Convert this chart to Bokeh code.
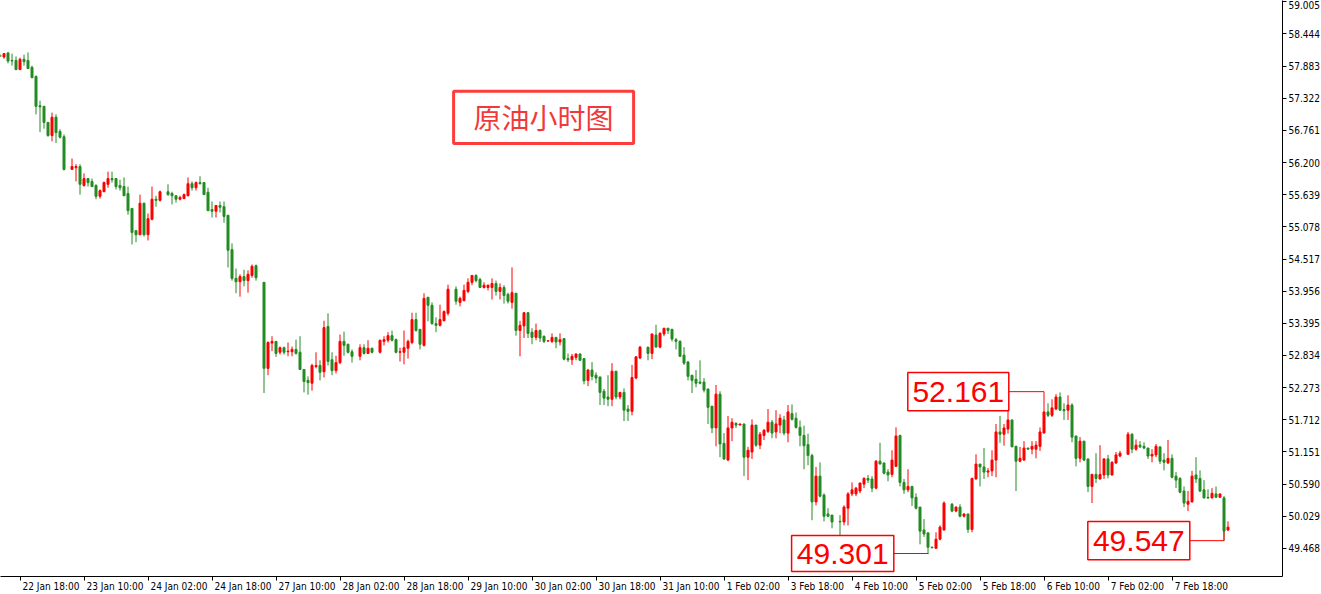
from bokeh.plotting import figure
from bokeh.models import (ColumnDataSource, Range1d, FixedTicker, PrintfTickFormatter,
                          BoxAnnotation, Label, LinearAxis)
from bokeh.embed import file_html
from bokeh.resources import INLINE

# ---------------- data (hourly crude oil) ----------------
opens = [
    58.07, 58.04, 58.11, 57.98, 57.98, 57.82, 58.00, 57.98, 57.86, 57.70,
    57.19, 57.18, 56.90, 56.67, 56.99, 56.74, 56.65, None, 56.08, 56.11,
    56.13, 55.80, 55.92, 55.87, 55.80, 55.61, 55.69, 55.82, 55.92, 55.92,
    55.80, 55.78, 55.66, 55.40, 55.01, 54.94, 55.49, 54.94, 55.21, 55.56,
    55.54, None, 55.69, 55.66, 55.62, 55.56, 55.57, 55.62, 55.83, 55.76,
    55.85, 55.85, 55.68, 55.38, 55.35, 55.45, 55.43, 55.28, 54.68, 54.18,
    54.12, 54.21, 54.14, 54.23, 54.40, None, 54.11, 52.61, 53.05, 53.08,
    52.89, 52.97, 52.90, 52.90, 52.94, 52.89, 52.59, 52.40, 52.35, 52.64,
    52.66, 52.55, 53.34, 52.76, 52.57, 52.71, 53.08, 53.03, 52.90, None,
    52.82, 52.97, 52.87, 52.96, None, 52.89, 53.08, 53.10, 53.18, 53.11,
    52.89, 52.89, 52.96, 53.06, 53.46, 53.29, 53.01, 53.85, 53.71, 53.39,
    53.36, 53.44, 53.57, None, 53.99, 53.76, 53.79, 53.95, 54.11, 54.23,
    54.16, 54.02, 54.02, 54.02, 54.09, 53.95, 54.02, 53.90, 53.76, 53.92,
    53.27, 53.35, 53.58, 53.24, 53.15, 53.27, 53.17, 53.085, 53.08, 53.15,
    53.07, 53.13, 52.78, 52.76, 52.80, 52.86, 52.78, 52.40, 52.58, 52.49,
    52.46, 52.21, 52.11, 52.07, 52.56, 52.11, 52.19, 51.90, 51.86, 52.44,
    52.79, None, 52.98, 52.87, 53.19, 52.98, 53.21, 53.31, 53.29, 53.11,
    53.08, 52.84, 52.72, 52.49, 52.42, 52.37, 52.37, 52.25, 51.95, 51.57,
    52.16, 51.30, 51.01, 51.57, 51.65, 51.62, 51.64, 51.06, 51.15, 51.62,
    51.27, 51.44, 51.51, 51.67, 51.50, 51.62, 51.71, 51.48, 51.82, 51.74,
    51.58, 51.44, 51.28, 51.09, 50.28, 50.73, 50.40, 50.07, 50.05, None,
    49.94, 49.93, 50.17, 50.42, 50.42, 50.47, 50.59, 50.69, 50.68, 50.52,
    50.99, 50.96, 50.80, 50.76, 50.90, 51.44, 50.62, 50.49, 50.55, 50.36,
    50.19, 49.79, 49.74, 49.49, 49.47, 49.63, 49.79, None, 50.24, 50.12,
    50.19, 50.03, 50.07, 49.80, 50.68, 50.94, 50.89, 50.80, 50.82, 51.01,
    51.50, 51.46, 51.55, 51.71, 51.25, 50.99, 51.01, 51.22, 51.20, 51.20,
    51.25, 51.48, 51.85, 51.79, 51.90, 52.11, 51.89, 51.88, 51.97, 51.43,
    51.04, 51.34, 51.03, 50.55, 50.76, 50.68, 50.75, 51.03, 50.75, 50.96,
    51.08, None, 51.11, 51.46, 51.20, 51.27, 51.25, 51.22, 51.08, 51.10,
    51.24, 51.01, 50.96, 51.04, 50.73, 50.69, 50.47, 50.24, 50.28, 50.75,
    50.69, 50.49, 50.36, 50.35, 50.42, 50.36, 50.35, 49.79,
]
highs = [
    58.10, 58.11, 58.13, 58.10, 58.05, 58.03, 58.08, 58.12, 57.89, 57.72,
    57.28, 57.18, 56.90, 57.07, 57.04, 56.78, 56.69, None, 56.27, 56.17,
    56.17, 56.01, 55.93, 55.92, 55.82, 55.73, 55.87, 56.04, 56.04, 55.93,
    55.90, 55.94, 55.78, 55.40, 55.02, 55.64, 55.50, 55.31, 55.78, 55.62,
    55.71, None, 55.82, 55.69, 55.63, 55.62, 55.66, 55.94, 55.87, 55.87,
    55.96, 55.86, 55.76, 55.52, 55.46, 55.52, 55.52, 55.28, 54.79, 54.35,
    54.25, 54.33, 54.32, 54.42, 54.42, None, 54.11, 53.08, 53.17, 53.08,
    52.99, 52.99, 53.06, 52.99, 53.11, 53.17, 52.59, 52.47, 52.69, 52.89,
    52.75, 53.44, 53.57, 52.89, 52.83, 53.20, 53.25, 53.04, 52.94, None,
    53.03, 53.03, 53.10, 52.97, None, 53.11, 53.17, 53.24, 53.27, 53.13,
    52.97, 53.27, 53.11, 53.58, 53.58, 53.29, 53.92, 53.85, 53.76, 53.50,
    53.72, 53.62, 54.07, None, 54.04, 53.86, 54.07, 54.18, 54.23, 54.25,
    54.19, 54.11, 54.07, 54.18, 54.14, 54.09, 54.06, 53.93, 54.37, 53.92,
    53.44, 53.59, 53.59, 53.31, 53.39, 53.29, 53.18, 53.10, 53.22, 53.15,
    53.22, 53.13, 52.87, 52.86, 52.87, 52.87, 52.78, 52.60, 52.72, 52.54,
    52.46, 52.25, 52.49, 52.70, 52.56, 52.20, 52.26, 51.97, 52.67, 52.82,
    53.00, None, 52.98, 53.21, 53.37, 53.24, 53.31, 53.31, 53.30, 53.14,
    53.10, 52.98, 52.74, 52.49, 52.58, 52.75, 52.44, 52.25, 51.95, 52.32,
    52.21, 51.48, 51.78, 51.74, 51.67, 51.64, 51.64, 51.24, 51.72, 51.62,
    51.50, 51.55, 51.90, 51.71, 51.88, 51.81, 51.78, 51.97, 51.98, 51.84,
    51.70, 51.61, 51.47, 51.12, 50.89, 50.97, 50.43, 50.17, 50.05, None,
    50.05, 50.22, 50.45, 50.62, 50.54, 50.61, 50.71, 50.75, 50.73, 51.01,
    51.31, 50.96, 50.85, 51.18, 51.58, 51.45, 50.68, 50.85, 50.56, 50.43,
    50.19, 49.98, 49.74, 49.50, 49.75, 49.87, 50.29, None, 50.26, 50.20,
    50.24, 50.08, 50.07, 50.70, 51.11, 50.94, 51.22, 50.87, 51.18, 51.64,
    51.78, 51.64, 51.88, 51.71, 51.26, 51.24, 51.34, 51.22, 51.34, 51.34,
    51.58, 51.85, 52.00, 52.07, 52.16, 52.19, 52.00, 52.14, 52.00, 51.43,
    51.41, 51.34, 51.03, 50.77, 51.13, 51.27, 51.04, 51.10, 50.99, 51.15,
    51.17, None, 51.50, 51.48, 51.37, 51.34, 51.32, 51.22, 51.20, 51.29,
    51.24, 51.13, 51.36, 51.11, 50.80, 50.71, 50.55, 50.47, 50.82, 51.06,
    50.83, 50.66, 50.50, 50.52, 50.55, 50.42, 50.38, 49.94,
]
lows = [
    58.04, 58.01, 57.93, 57.89, 57.82, 57.82, 57.89, 57.83, 57.67, 57.04,
    56.73, 56.79, 56.65, 56.57, 56.54, 56.62, 56.06, None, 56.08, 55.87,
    55.64, 55.78, 55.78, 55.78, 55.56, 55.57, 55.69, 55.76, 55.85, 55.73,
    55.71, 55.62, 55.29, 54.77, 54.81, 54.94, 54.91, 54.84, 55.19, 55.43,
    55.52, None, 55.62, 55.47, 55.50, 55.54, 55.57, 55.61, 55.71, 55.71,
    55.82, 55.64, 55.36, 55.24, 55.24, 55.33, 55.15, 54.37, 54.14, 53.92,
    53.86, 54.04, 53.93, 54.19, 54.14, None, 52.18, 52.49, 52.91, 52.81,
    52.85, 52.85, 52.82, 52.82, 52.85, 52.59, 52.19, 52.15, 52.22, 52.61,
    52.40, 52.45, 52.66, 52.49, 52.52, 52.68, 52.83, 52.87, 52.71, None,
    52.75, 52.85, 52.86, 52.87, None, 52.87, 53.01, 53.06, 53.08, 52.87,
    52.73, 52.68, 52.78, 53.03, 53.25, 52.94, 52.99, 53.43, 53.37, 53.24,
    53.34, 53.43, 53.53, None, 53.72, 53.69, 53.78, 53.92, 54.06, 54.11,
    54.02, 54.00, 53.97, 53.81, 53.88, 53.81, 53.74, 53.74, 53.65, 53.18,
    52.82, 53.14, 53.14, 53.03, 53.10, 53.07, 53.05, 53.08, 53.05, 52.96,
    53.01, 52.75, 52.72, 52.67, 52.75, 52.75, 52.33, 52.30, 52.40, 52.35,
    51.97, 51.97, 51.95, 51.95, 52.07, 52.07, 51.69, 51.69, 51.79, 52.42,
    52.77, None, 52.75, 52.77, 52.98, 52.96, 53.17, 53.21, 53.08, 52.94,
    52.81, 52.67, 52.40, 52.18, 52.28, 52.33, 52.19, 51.64, 51.48, 51.25,
    51.06, 51.01, 50.99, 51.34, 51.57, 51.62, 50.73, 50.66, 51.03, 51.24,
    51.20, 51.36, 51.48, 51.39, 51.39, 51.48, 51.44, 51.32, 51.70, 51.56,
    51.25, 50.85, 50.92, 49.96, 50.22, 50.36, 49.94, 50.01, 49.82, None,
    49.70, 49.87, 49.87, 50.38, 50.38, 50.43, 50.52, 50.61, 50.45, 50.50,
    50.94, 50.76, 50.64, 50.71, 50.89, 50.55, 50.42, 50.45, 50.21, 50.15,
    49.54, 49.67, 49.37, 49.47, 49.47, 49.61, 49.78, None, 50.10, 50.10,
    50.01, 50.01, 49.74, 49.75, 50.67, 50.55, 50.68, 50.71, 50.73, 50.71,
    51.31, 51.26, 51.47, 51.24, 50.47, 50.97, 51.00, 51.20, 51.11, 51.04,
    51.17, 51.48, 51.76, 51.76, 51.88, 51.88, 51.71, 51.71, 51.32, 50.90,
    50.97, 50.99, 50.45, 50.26, 50.61, 50.67, 50.68, 50.69, 50.74, 50.94,
    51.06, None, 51.11, 51.13, 51.17, 51.22, 51.20, 51.03, 50.97, 51.06,
    50.94, 50.83, 50.94, 50.69, 50.52, 50.43, 50.19, 50.12, 50.27, 50.61,
    50.45, 50.34, 50.33, 50.34, 50.36, 50.36, 49.60, 49.77,
]
closes = [
    58.05, 58.10, 57.97, 57.97, 57.82, 58.00, 57.96, 57.84, 57.68, 57.18,
    57.17, 56.90, 56.67, 56.99, 56.72, 56.64, 56.08, None, 56.13, 56.13,
    55.82, 55.92, 55.85, 55.78, 55.61, 55.71, 55.85, 55.92, 55.90, 55.78,
    55.76, 55.62, 55.36, 54.98, 54.94, 55.49, 54.94, 55.22, 55.56, 55.54,
    55.69, None, 55.64, 55.62, 55.56, 55.59, 55.64, 55.83, 55.76, 55.85,
    55.83, 55.64, 55.36, 55.35, 55.45, 55.42, 55.26, 54.67, 54.18, 54.12,
    54.21, 54.14, 54.25, 54.39, 54.19, None, 52.61, 53.06, 53.08, 52.87,
    52.97, 52.89, 52.91, 52.94, 52.87, 52.59, 52.38, 52.36, 52.66, 52.66,
    52.54, 53.32, 52.73, 52.57, 52.71, 53.08, 53.01, 52.89, 52.82, None,
    52.97, 52.87, 52.96, 52.89, None, 53.10, 53.11, 53.18, 53.10, 52.89,
    52.90, 52.97, 53.08, 53.46, 53.27, 53.03, 53.83, 53.71, 53.39, 53.36,
    53.46, 53.60, 53.99, None, 53.78, 53.83, 53.97, 54.11, 54.23, 54.14,
    54.02, 54.06, 54.06, 54.09, 53.95, 54.02, 53.88, 53.78, 53.93, 53.27,
    53.36, 53.58, 53.22, 53.15, 53.27, 53.14, 53.08, 53.09, 53.15, 53.07,
    53.11, 52.77, 52.76, 52.82, 52.86, 52.75, 52.39, 52.58, 52.47, 52.44,
    52.19, 52.09, 52.07, 52.56, 52.11, 52.19, 51.88, 51.86, 52.45, 52.81,
    52.98, None, 52.87, 53.21, 52.98, 53.22, 53.31, 53.27, 53.12, 53.08,
    52.82, 52.70, 52.47, 52.40, 52.35, 52.35, 52.23, 51.93, 51.57, 52.16,
    51.29, 51.03, 51.57, 51.67, 51.62, 51.64, 51.06, 51.18, 51.62, 51.27,
    51.46, 51.53, 51.67, 51.48, 51.64, 51.74, 51.48, 51.85, 51.72, 51.58,
    51.44, 51.26, 51.09, 50.28, 50.73, 50.38, 50.03, 50.03, 49.93, None,
    49.93, 50.19, 50.42, 50.49, 50.52, 50.61, 50.69, 50.66, 50.52, 50.99,
    50.94, 50.78, 50.75, 51.01, 51.43, 50.62, 50.49, 50.55, 50.35, 50.17,
    49.77, 49.72, 49.49, 49.48, 49.63, 49.84, 50.26, None, 50.12, 50.19,
    50.03, 50.07, 49.80, 50.69, 50.94, 50.89, 50.80, 50.82, 51.01, 51.50,
    51.46, 51.57, 51.71, 51.24, 50.99, 51.04, 51.22, 51.20, 51.25, 51.27,
    51.50, 51.85, 51.79, 51.92, 52.11, 51.88, 51.87, 51.97, 51.41, 51.04,
    51.34, 51.01, 50.55, 50.76, 50.69, 50.76, 51.03, 50.75, 50.97, 51.10,
    51.13, None, 51.46, 51.20, 51.27, 51.24, 51.22, 51.08, 51.11, 51.25,
    50.99, 50.97, 51.04, 50.71, 50.66, 50.45, 50.26, 50.29, 50.73, 50.68,
    50.47, 50.35, 50.35, 50.43, 50.36, 50.42, 49.77, 49.84,
]

x_tick_labels = [
    "22 Jan 18:00", "23 Jan 10:00", "24 Jan 02:00", "24 Jan 18:00", "27 Jan 10:00",
    "28 Jan 02:00", "28 Jan 18:00", "29 Jan 10:00", "30 Jan 02:00", "30 Jan 18:00",
    "31 Jan 10:00", "1 Feb 02:00", "3 Feb 18:00", "4 Feb 10:00", "5 Feb 02:00",
    "5 Feb 18:00", "6 Feb 10:00", "7 Feb 02:00", "7 Feb 18:00",
]
first_tick_bar = 5
bars_per_tick = 16

y_ticks = [59.005, 58.444, 57.883, 57.322, 56.761, 56.200, 55.639, 55.078, 54.517,
           53.956, 53.395, 52.834, 52.273, 51.712, 51.151, 50.590, 50.029, 49.468]

title_text = "原油小时图"

# annotated prices: (text, bar it points to, which price of that bar)
callouts = [
    ("52.161", 261, "high"),
    ("49.301", 232, "low"),
    ("49.547", 306, "close"),
]

# ---------------- styling / layout ----------------
UP_COLOR = "#ff0000"
DOWN_COLOR = "#228b22"
ANNOT_RED = "#ff0000"
TICK_FONT = "'DejaVu Sans Condensed', 'DejaVu Sans', sans-serif"
TICK_FONT_PX = 10
# approximate advance widths (px at 10px) used to left-align the time labels
CHAR_W = {" ": 2.86, ":": 3.03, "J": 2.65, "a": 5.51, "n": 5.71,
          "F": 5.18, "e": 5.53, "b": 5.71}
DIGIT_W = 5.72

PX_PER_BAR = 4.0
PX_PER_UNIT = 57.33
FRAME_W, FRAME_H = 1282, 576
X_START = 0.125
Y_TOP = 59.026

rows = [i for i, o in enumerate(opens) if o is not None]
src = ColumnDataSource(dict(
    x=rows,
    high=[highs[i] for i in rows],
    low=[lows[i] for i in rows],
    top=[max(opens[i], closes[i]) for i in rows],
    bottom=[min(opens[i], closes[i]) for i in rows],
    color=[UP_COLOR if closes[i] > opens[i] else DOWN_COLOR for i in rows],
))

y_bottom = Y_TOP - FRAME_H / PX_PER_UNIT
p = figure(
    frame_width=FRAME_W, frame_height=FRAME_H,
    x_range=Range1d(X_START, X_START + FRAME_W / PX_PER_BAR),
    y_range=Range1d(y_bottom, Y_TOP),
    y_axis_location="right",
    output_backend="svg", toolbar_location=None,
    min_border=0, background_fill_color="white", border_fill_color="white",
)
p.outline_line_color = None
p.grid.visible = False

p.segment(x0="x", y0="high", x1="x", y1="low", color="color", line_width=1, source=src)
p.vbar(x="x", width=0.5, top="top", bottom="bottom", fill_color="color",
       line_color="color", line_width=1, source=src)

# right price axis
ya = p.yaxis[0]
ya.ticker = FixedTicker(ticks=y_ticks)
ya.formatter = PrintfTickFormatter(format="%.3f")
ya.major_tick_out = 4
ya.major_tick_in = 0
ya.minor_tick_out = 0
ya.minor_tick_in = 0
ya.major_label_standoff = 2
ya.axis_line_color = "black"
ya.major_tick_line_color = "black"
ya.major_label_text_font = TICK_FONT
ya.major_label_text_font_size = f"{TICK_FONT_PX}px"
ya.major_label_text_color = "black"

# bottom time axis: first axis draws the line and tick marks only
tick_pos = [first_tick_bar + k * bars_per_tick for k in range(len(x_tick_labels))]
xa = p.xaxis[0]
xa.ticker = FixedTicker(ticks=tick_pos)
xa.major_label_overrides = {t: "" for t in tick_pos}
xa.major_label_text_font_size = "1px"
xa.major_tick_out = 4
xa.major_tick_in = 0
xa.minor_tick_out = 0
xa.minor_tick_in = 0
xa.major_label_standoff = 0
xa.axis_line_color = "black"
xa.major_tick_line_color = "black"


def text_width(s):
    return sum(DIGIT_W if ch.isdigit() else CHAR_W.get(ch, 5.5) for ch in s)


# second axis carries the labels, centred so that each starts just right of its tick
label_pos = [t + (text_width(lab) / 2 + 2.5) / PX_PER_BAR
             for t, lab in zip(tick_pos, x_tick_labels)]
xa2 = LinearAxis(
    ticker=FixedTicker(ticks=label_pos),
    major_label_overrides={lp: lab for lp, lab in zip(label_pos, x_tick_labels)},
    axis_line_color=None, major_tick_line_color=None, minor_tick_line_color=None,
    major_tick_out=0, major_tick_in=0, minor_tick_out=0, minor_tick_in=0,
    major_label_standoff=0,
    major_label_text_font=TICK_FONT, major_label_text_font_size=f"{TICK_FONT_PX}px",
    major_label_text_color="black",
)
p.add_layout(xa2, "below")

# title box
p.add_layout(BoxAnnotation(left=113.4, right=158.4, bottom=56.532, top=57.444,
                           fill_color="white", fill_alpha=1.0,
                           line_color="#ff3c3c", line_alpha=1.0, line_width=3,
                           level="overlay"))
p.add_layout(Label(x=135.9, y=56.99, text=title_text, text_align="center",
                   text_baseline="middle", text_font="Noto Sans CJK SC",
                   text_font_size="28px", text_color="#f03a3a", level="overlay"))

# callout boxes with connectors
box_geom = {  # box left/right in bars, bottom/top in price
    "52.161": (226.95, 252.2, 51.869, 52.537),
    "49.301": (197.9, 223.45, 49.066, 49.694),
    "49.547": (271.95, 297.45, 49.27, 49.938),
}
series = {"high": highs, "low": lows, "close": closes}
for text, bar, kind in callouts:
    left, right, bottom, top = box_geom[text]
    mid = (bottom + top) / 2
    anchor = series[kind][bar]
    p.line([right, bar, bar], [mid, mid, anchor], line_color=ANNOT_RED, line_width=1)
    p.add_layout(BoxAnnotation(left=left, right=right, bottom=bottom, top=top,
                               fill_color="white", fill_alpha=1.0,
                               line_color=ANNOT_RED, line_alpha=1.0, line_width=1.5,
                               level="overlay"))
    p.add_layout(Label(x=(left + right) / 2, y=mid, text=text, text_align="center",
                       text_baseline="middle",
                       text_font="'Liberation Sans', Arial, sans-serif",
                       text_font_size="30px", text_color=ANNOT_RED, level="overlay"))

open("out.html", "w").write(file_html(p, INLINE))
